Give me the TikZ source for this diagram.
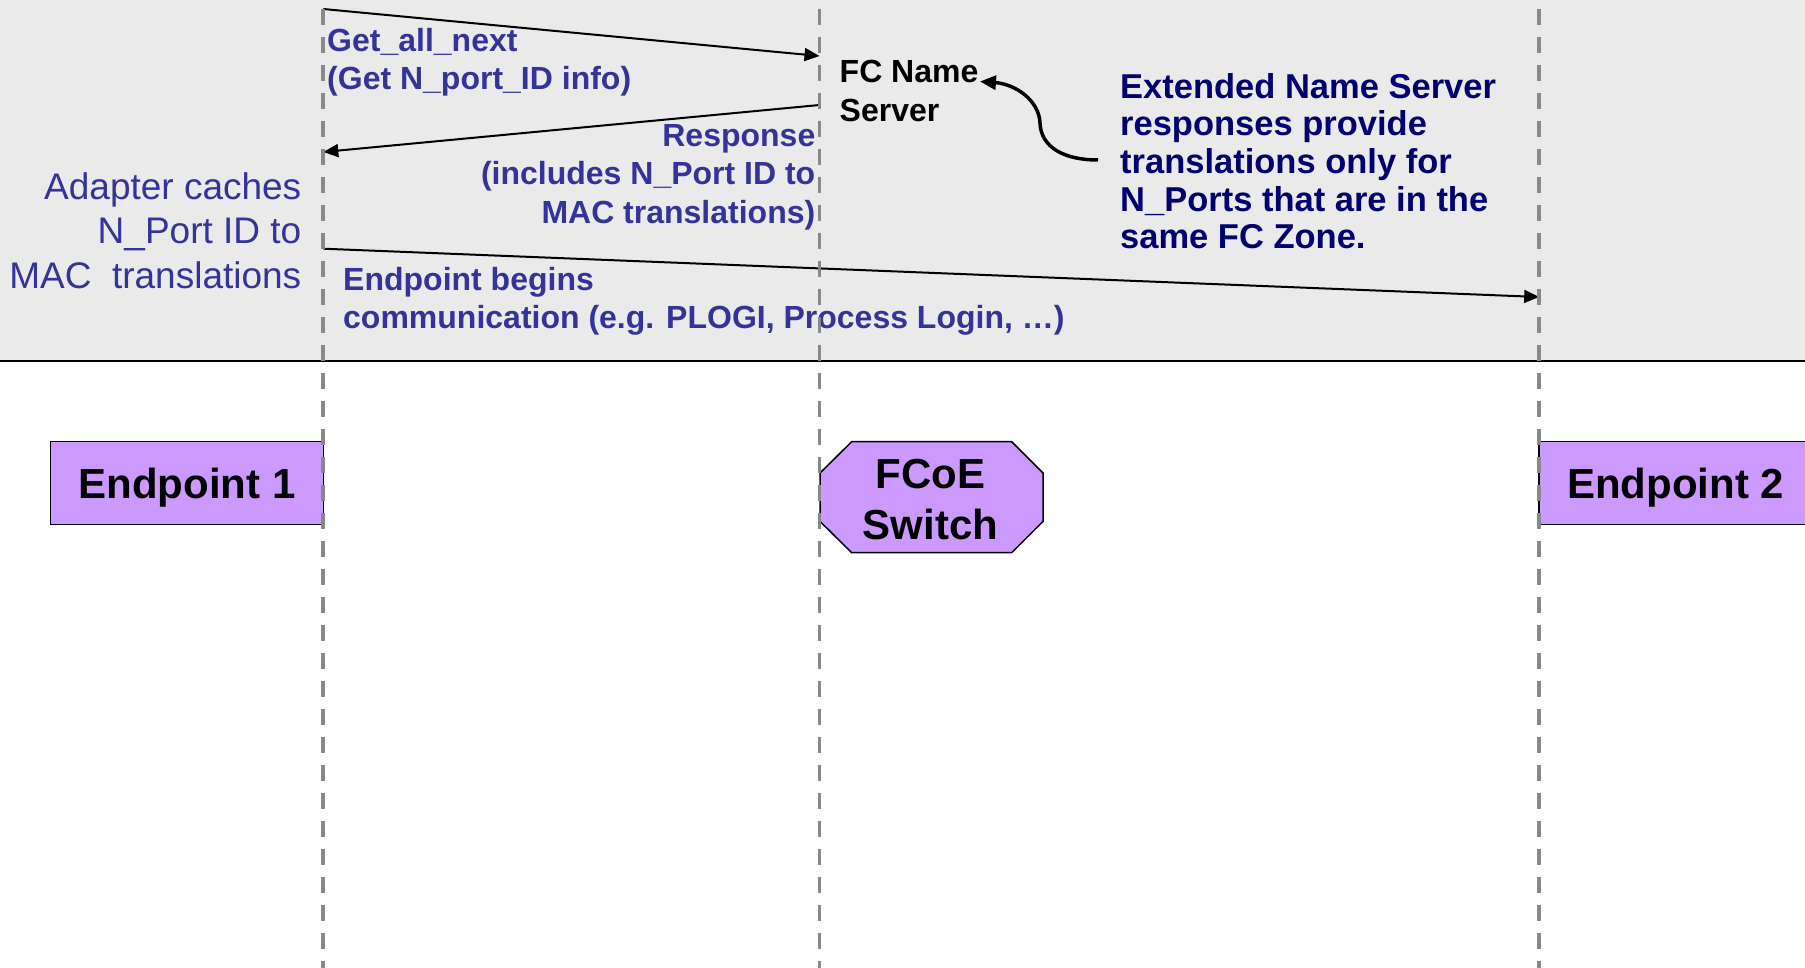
\documentclass[tikz,border=0pt]{standalone}
\usepackage{fontspec}
\setmainfont{Liberation Sans}
\usetikzlibrary{arrows.meta}
\definecolor{bgc}{HTML}{EAEAEA}
\definecolor{lbl}{HTML}{333399}
\definecolor{navy}{HTML}{000070}
\definecolor{lilac}{HTML}{CC99FF}
\definecolor{life}{HTML}{888888}
\newcommand\mylines[2]{\begin{tabular}[t]{@{}#1@{}}#2\end{tabular}}
\begin{document}
\begin{tikzpicture}[x=1pt,y=-1pt,
  msg/.style={line width=2pt,-{Triangle[length=15pt,width=13pt]}},
  lifeline/.style={draw=life,line width=3.8pt,dash pattern=on 16pt off 12pt},
  lbltext/.style={inner sep=0pt,text=lbl,font=\fontsize{32}{38.3}\selectfont\bfseries},
  blacktext/.style={inner sep=0pt,text=black,font=\fontsize{32}{38.3}\selectfont\bfseries},
  box/.style={draw=black,line width=1.5pt,fill=lilac,inner sep=0pt,font=\fontsize{42}{51}\selectfont\bfseries,text height=30pt,text depth=0pt}]
\useasboundingbox (0,0) rectangle (1805,968);
\clip (0,0) rectangle (1805,968);
% top band
\fill[bgc] (0,0) rectangle (1805,360.5);
\draw[line width=2pt] (0,360.7) -- (1805,360.7);
% participants
\node[box,minimum width=272.8pt,minimum height=83pt] (ep1) at (187.1,483) {Endpoint 1};
\node[box,minimum width=273pt,minimum height=83pt] (ep2) at (1675.5,483) {Endpoint 2};
\fill[lilac,draw=black,line width=1.5pt] (851.7,441.7) -- (1011.7,441.7) -- (1043,473) -- (1043,521.4) -- (1011.7,552.7) -- (851.7,552.7) -- (820,521.4) -- (820,473) -- cycle;
\node[inner sep=0pt,anchor=base,font=\fontsize{42}{51}\selectfont\bfseries] (sw) at (930.5,488.3) {\mylines{c}{FCoE\\Switch}};
% coordinates
\coordinate (l1a) at (323.3,9);
\coordinate (l1b) at (323.3,968);
\coordinate (l2a) at (819.5,9);
\coordinate (l2b) at (819.5,968);
\coordinate (l3a) at (1539.2,9);
\coordinate (l3b) at (1539.2,968);
\coordinate (m1s) at (323.3,9);
\coordinate (m1e) at (819.5,56);
\coordinate (m2s) at (819.5,105);
\coordinate (m2e) at (323.3,152);
\coordinate (m3s) at (323.3,248.7);
\coordinate (m3e) at (1539.2,297);
\coordinate (c0) at (1098,160);
\coordinate (c1) at (1040,123);
\coordinate (c2) at (980,81.5);
% messages
\draw[msg] (m1s) -- (m1e);
\draw[msg] (m2s) -- (m2e);
\draw[msg] (m3s) -- (m3e);
\draw[line width=3.5pt,-{Triangle[length=16pt,width=14pt]}] (c0) .. controls (1065,160) and (1041,148) .. (c1) .. controls (1039,100) and (1015,84) .. (c2);
% labels
\node[lbltext,anchor=base west] (t1) at (327,51.5) {\mylines{l}{Get\_all\_next\\(Get N\_port\_ID info)}};
\node[lbltext,anchor=base east] (t2) at (815.5,146.5) {\mylines{r}{Response\\(includes N\_Port ID to\\MAC translations)}};
\node[blacktext,anchor=base west] (fcns) at (839.5,83) {\mylines{l}{FC Name\\Server}};
\node[inner sep=0pt,anchor=base west,text=navy,font=\fontsize{34.5}{37.7}\selectfont\bfseries] (ext) at (1120,98.2) {\mylines{l}{Extended Name Server\\responses provide\\translations only for\\N\_Ports that are in the\\same FC Zone.}};
\node[inner sep=0pt,anchor=base east,text=lbl,font=\fontsize{37}{44.2}\selectfont] (ad) at (301.5,199.8) {\mylines{r}{Adapter caches\\N\_Port ID to\\MAC\ \ translations}};
\node[lbltext,anchor=base west] (t3) at (343,290.5) {\mylines{l}{Endpoint begins\\communication (e.g. PLOGI, Process Login, …)}};
% lifelines
\draw[lifeline] (l1a) -- (l1b);
\draw[lifeline] (l2a) -- (l2b);
\draw[lifeline] (l3a) -- (l3b);
\end{tikzpicture}
\end{document}
